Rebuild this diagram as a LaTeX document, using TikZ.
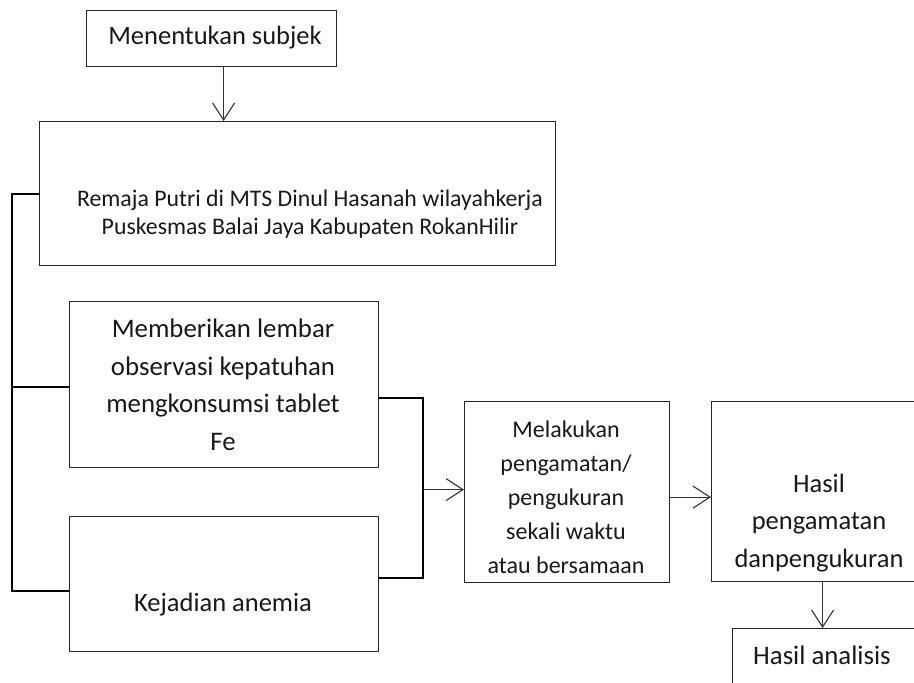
\documentclass[tikz,border=0pt]{standalone}
\usepackage{fontspec}
\setmainfont{Carlito}
\usetikzlibrary{arrows.meta}
\begin{document}
\begin{tikzpicture}[x=1pt,y=-1pt,
  box/.style={draw=black!85, line width=1.2pt, inner sep=0pt, anchor=north west},
  txt/.style={inner sep=0pt, align=center, text=black!90},
  brk/.style={draw=black, line width=2pt},
  arr/.style={draw=black!80, line width=1.1pt, -{Straight Barb[length=17pt,width=22pt,line width=1.1pt]}}]
\useasboundingbox (0,0) rectangle (914,683);
\clip (0,0) rectangle (914,683);
\fill[white] (0,0) rectangle (914,683);
% boxes
\node[box, minimum width=250pt, minimum height=56pt] (top) at (86,10) {};
\node[box, minimum width=516pt, minimum height=144pt] (rem) at (39,121) {};
\node[box, minimum width=309pt, minimum height=166pt] (mem) at (69,301) {};
\node[box, minimum width=309pt, minimum height=135pt] (kej) at (69,516) {};
\node[box, minimum width=205pt, minimum height=181pt] (mel) at (464,401) {};
\node[box, minimum width=216pt, minimum height=180pt] (has) at (711,401) {};
\node[box, minimum width=200pt, minimum height=80pt] (ana) at (732,628) {};
% texts
\node[txt, font=\fontsize{26.5}{32}\selectfont] (ttop) at (215,38) {Menentukan subjek};
\node[txt, font=\fontsize{23.8}{28}\selectfont] (trem) at (310,214) {Remaja Putri di MTS Dinul Hasanah wilayahkerja\\Puskesmas Balai Jaya Kabupaten RokanHilir};
\node[txt, font=\fontsize{26.8}{37.5}\selectfont] (tmem) at (223,385) {Memberikan lembar\\observasi kepatuhan\\mengkonsumsi tablet\\Fe};
\node[txt, font=\fontsize{26.5}{32}\selectfont] (tkej) at (223,605) {Kejadian anemia};
\node[txt, font=\fontsize{24}{34}\selectfont] (tmel) at (566,497) {Melakukan\\pengamatan/\\pengukuran\\sekali waktu\\atau bersamaan};
\node[txt, font=\fontsize{26.5}{37.5}\selectfont] (thas) at (819,523) {Hasil\\pengamatan\\danpengukuran};
\node[txt, font=\fontsize{26.8}{30}\selectfont] (tana) at (822,655) {Hasil analisis};
% connectors
\coordinate (L) at (12,0);
\coordinate (R) at (423,0);
\draw[arr] ([xshift=12pt]top.south) -- ([xshift=12pt]top.south |- rem.north);
\draw[brk] (rem.west) -- (rem.west -| L) -- ([yshift=-6.5pt]kej.west -| L) -- ([yshift=-6.5pt]kej.west);
\draw[brk] ([yshift=-2pt]mem.west -| L) -- ([yshift=-2pt]mem.west);
\draw[brk] ([yshift=-13pt]mem.east) -- ([yshift=-13pt]mem.east -| R) -- ([yshift=6.5pt]kej.east -| R) -- ([yshift=6.5pt]kej.east);
\draw[arr] ([yshift=2.5pt]mel.west -| R) -- ([yshift=2.5pt]mel.west);
\draw[arr] ([yshift=-5pt]mel.east) -- ([yshift=-5pt]mel.east -| has.west);
\draw[arr] ([xshift=3pt]has.south) -- ([xshift=3pt]has.south |- ana.north);
\end{tikzpicture}
\end{document}
